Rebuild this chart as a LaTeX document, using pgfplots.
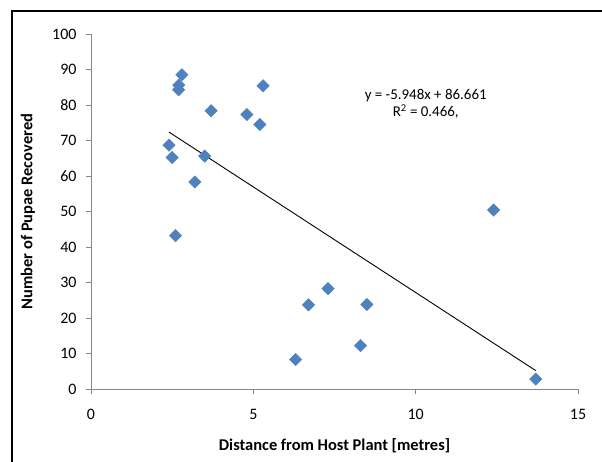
\documentclass[border=0pt]{standalone}
\usepackage{pgfplots}
\pgfplotsset{compat=1.18}
\usepackage{fontspec}
\setmainfont{Carlito}
\definecolor{mblue}{HTML}{4F81BD}
\definecolor{axgray}{HTML}{868686}
\begin{document}
\begin{tikzpicture}
\useasboundingbox (0,0) rectangle (602bp,462bp);
\begin{scope}
\clip (0,0) rectangle (602bp,462bp);
\draw[line width=2.2bp] (12bp,-20bp) -- (12bp,451bp) -- (640bp,451bp);
\end{scope}
\begin{axis}[
  at={(91bp,73bp)}, anchor=south west,
  scale only axis, width=487bp, height=355bp,
  xmin=0, xmax=15, ymin=0, ymax=100,
  axis x line=bottom, axis y line=left,
  axis line style={draw=axgray, line width=0.9bp, -},
  xtick={0,5,10,15}, ytick={0,10,...,100},
  tick align=outside, major tick length=5bp,
  tick style={draw=axgray, line width=0.9bp},
  every tick label/.style={font=\fontsize{16}{18}\selectfont, text=black},
  /pgf/number format/assume math mode=true,
  xticklabel style={yshift=-12bp},
  yticklabel style={xshift=-6bp},
  clip=false,
]
\addplot[only marks, mark=square*, mark size=4.4bp, mark options={rotate=45, fill=mblue, draw=mblue}] coordinates {
(2.4,68.7) (2.5,65.2) (2.6,43.2) (2.7,84.3) (2.7,85.6) (2.8,88.5)
(3.2,58.3) (3.5,65.6) (3.7,78.4) (4.8,77.3) (5.2,74.5) (5.3,85.4)
(6.3,8.3) (6.7,23.7) (7.3,28.3) (8.3,12.2) (8.5,23.8) (12.4,50.4) (13.7,2.8)
};
\addplot[black, line width=0.9bp] coordinates {(2.4,72.386) (13.7,5.174)};
\node[align=center, font=\fontsize{15}{17}\selectfont] at (axis cs:10.31,80.3) {y = -5.948x + 86.661\\R\textsuperscript{2} = 0.466,};
\node[font=\bfseries\fontsize{16.5}{18}\selectfont] at (rel axis cs:0.5,-0.16) {Distance from Host Plant [metres]};
\node[font=\bfseries\fontsize{16.5}{18}\selectfont, rotate=90] at (rel axis cs:-0.1294,0.5) {Number of Pupae Recovered};
\end{axis}
\end{tikzpicture}
\end{document}
